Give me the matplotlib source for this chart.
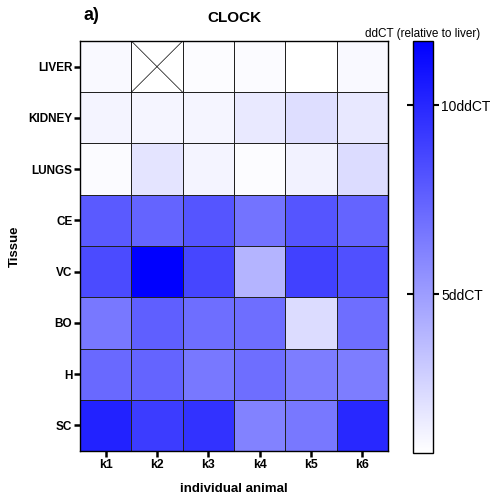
import numpy as np
import matplotlib.pyplot as plt
from matplotlib.colors import LinearSegmentedColormap

plt.rcParams['font.family'] = ['Liberation Sans', 'DejaVu Sans']

tissues = ['LIVER', 'KIDNEY', 'LUNGS', 'CE', 'VC', 'BO', 'H', 'SC']
animals = ['k1', 'k2', 'k3', 'k4', 'k5', 'k6']

# ddCT per tissue (rows) and animal (columns); nan = no sample
liver  = [1.09, np.nan, 0.93, 1.01, 0.80, 1.09]
kidney = [1.31, 1.23, 1.23, 1.74, 2.21, 1.78]
lungs  = [1.01, 1.95, 1.31, 0.93, 1.36, 2.30]
ce     = [7.85, 7.43, 8.07, 6.78, 8.07, 7.43]
vc     = [8.49, 11.70, 8.71, 4.01, 8.92, 8.28]
bo     = [6.57, 7.64, 7.00, 7.00, 2.30, 7.00]
h      = [7.21, 7.43, 6.57, 7.00, 6.36, 6.36]
sc     = [10.21, 9.14, 9.57, 6.14, 6.57, 9.99]

cbar_ticks = [5, 10]
cbar_labels = ['5ddCT', '10ddCT']

data = np.ma.masked_invalid(np.array([liver, kidney, lungs, ce, vc, bo, h, sc]))
nrow, ncol = data.shape

cmap = LinearSegmentedColormap.from_list('wb', ['#ffffff', '#0000ff'])

fig = plt.figure(figsize=(4.93, 4.98), dpi=100)
ax = fig.add_axes([80/493, 1-451/498, 308/493, 410/498])
cax = fig.add_axes([413/493, 1-453/498, 20/493, 412/498])

mesh = ax.pcolormesh(np.arange(ncol+1), np.arange(nrow+1), data, cmap=cmap,
                     vmin=0.8, vmax=11.7, edgecolors='#222222', linewidth=0.5)
ax.set_xlim(0, ncol)
ax.set_ylim(nrow, 0)

# crossed-out box for the missing sample
for r, c in zip(*np.where(data.mask)):
    ax.plot([c, c+1], [r, r+1], color='black', lw=0.5)
    ax.plot([c, c+1], [r+1, r], color='black', lw=0.5)
    ax.add_patch(plt.Rectangle((c, r), 1, 1, fill=False, ec='#222222', lw=0.5))

ax.set_xticks(np.arange(ncol) + 0.5)
ax.set_xticklabels(animals, fontweight='bold', fontsize=8.8)
ax.set_yticks(np.arange(nrow) + 0.5)
ax.set_yticklabels(tissues, fontweight='bold', fontsize=8.5)
ax.tick_params(length=4, width=1.8, pad=1.5)
for s in ax.spines.values():
    s.set_linewidth(1)
ax.set_xlabel('individual animal', fontweight='bold', fontsize=9.5, labelpad=9)
fig.text(15/493, 1-246/498, 'Tissue', fontweight='bold', fontsize=9.5,
         rotation=90, ha='center', va='center')
ax.set_title('CLOCK', fontweight='bold', fontsize=11, pad=14)
fig.text(83/493, 1-15/498, 'a)', fontweight='bold', fontsize=13, va='center')

cb = fig.colorbar(mesh, cax=cax, ticks=cbar_ticks)
cb.ax.set_yticklabels(cbar_labels, fontsize=10)
cb.ax.tick_params(which='major', left=True, right=True, direction='out',
                  length=4, width=1.5, pad=2)
cb.outline.set_linewidth(1)
cb.ax.set_title('ddCT (relative to liver)', fontsize=8.5, pad=3)

fig.savefig('out.png', dpi=100)
